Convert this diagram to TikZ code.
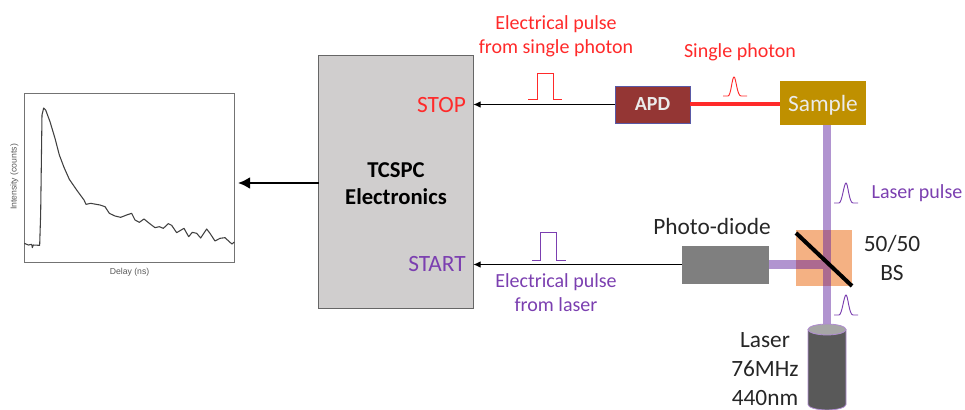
\documentclass[tikz,border=0pt]{standalone}
\usepackage{fontspec}
\setmainfont{Carlito}
\newfontfamily\plotfont{Liberation Sans}
\usetikzlibrary{arrows.meta,shapes.geometric}
\definecolor{pred}{HTML}{FF2A2A}
\definecolor{ppurple}{HTML}{7B3FB0}
\definecolor{beam}{HTML}{B194D0}
\definecolor{overlapc}{HTML}{AC6A90}
\definecolor{boxgray}{HTML}{D0CECE}
\definecolor{samplec}{HTML}{BF9000}
\definecolor{apdc}{HTML}{943634}
\definecolor{orangec}{HTML}{F4B183}
\definecolor{pdc}{HTML}{7F7F7F}
\definecolor{laserc}{HTML}{595959}
\tikzset{
  txt/.style={inner sep=0pt,font=\fontsize{17.5pt}{21pt}\selectfont,align=center,text=black!85},
  redtxt/.style={txt,text=pred,font=\fontsize{15pt}{18pt}\selectfont},
  purpletxt/.style={txt,text=ppurple,font=\fontsize{15pt}{18pt}\selectfont},
  blocknode/.style={rectangle,outer sep=0pt,inner sep=0pt},
  signal/.style={draw=black,line width=0.75pt,-{Latex[length=5.5pt,width=5pt]}},
  pulse/.style={line width=0.7pt},
  small/.style={inner sep=0pt,text=black!65,font=\plotfont\fontsize{6.5pt}{8pt}\selectfont},
  laseredge/.style={draw=ppurple!60,line width=0.6pt},
}
\begin{document}
\begin{tikzpicture}[x=0.75pt,y=-0.75pt]
\useasboundingbox (0,0) rectangle (965,410);
% plot
\node[blocknode,draw=black!55,line width=0.6pt,minimum width=157.5pt,minimum height=126.75pt] (plot) at (129,177.5) {};
\begin{scope}[shift={(0,80)},x=0.25pt,y=-0.25pt]
\draw[black!75,line width=0.8pt,line join=round] (73,490) -- (85,495) -- (95,493) -- (97,503) -- (100,495) -- (119,496) -- (122,400) -- (126,105) -- (131,84) -- (137,90) -- (150,125) -- (165,175) -- (178,225) -- (192,262) -- (208,298) -- (230,330) -- (252,360) -- (258,373) -- (272,370) -- (300,375) -- (315,380) -- (328,400) -- (345,408) -- (362,412) -- (380,405) -- (395,400) -- (405,420) -- (418,427) -- (432,417) -- (448,430) -- (465,443) -- (478,440) -- (490,445) -- (505,431) -- (515,436) -- (530,458) -- (552,445) -- (566,470) -- (577,457) -- (590,460) -- (602,474) -- (620,447) -- (630,460) -- (645,483) -- (660,475) -- (675,473) -- (690,487) -- (696,492) -- (703,486);
\end{scope}
\node[small,rotate=90] (ylab) at (14.5,177) {Intensity (counts)};
\node[small] (xlab) at (129.5,272) {Delay (ns)};
% TCSPC
\node[blocknode,draw=black!60,fill=boxgray,line width=0.6pt,minimum width=116pt,minimum height=189.75pt] (tcspc) at (396,181.5) {};
\node[txt,text=black,font=\bfseries\fontsize{17pt}{20pt}\selectfont] (tcspclab) at (396,183.5) {TCSPC\\Electronics};
\node[txt,text=pred] (stop) at (441.5,105) {STOP};
\node[txt,text=ppurple] (start) at (437,264) {START};
% devices
\node[blocknode,fill=apdc,draw=blue!30!gray,line width=0.4pt,minimum width=56.25pt,minimum height=27.75pt,text=white!92!black,font=\bfseries\fontsize{15pt}{18pt}\selectfont] (apd) at (652.5,104.5) {APD};
\node[blocknode,fill=samplec,minimum width=64.5pt,minimum height=33pt,text depth=0pt,text=white!92!black,font=\fontsize{17.5pt}{21pt}\selectfont] (sample) at (823,103) {Sample};
\node[blocknode,fill=orangec,minimum width=42pt,minimum height=42pt] (bs) at (824,258) {};
\node[blocknode,fill=pdc,minimum width=65.25pt,minimum height=28.5pt] (pd) at (725.5,264.5) {};
\coordinate (bscentre) at (830,264.5);
\coordinate (lasertop) at (827,330);
% beams
\draw[beam,line width=6pt] (sample.south -| lasertop) -- (lasertop);
\draw[beam,line width=6.75pt] (pd.east) -- (bs.west |- bscentre);
\draw[overlapc,line width=6pt] (bs.north -| lasertop) -- (bs.south -| lasertop);
\draw[overlapc,line width=6.75pt] (bs.west |- bscentre) -- (bscentre);
\coordinate (mirrora) at (796,233);
\coordinate (mirrorb) at (852,286);
\draw[line width=3pt,black] (mirrora) -- (mirrorb);
\draw[pred,line width=3pt] (apd.east) -- (sample.west |- apd.east);
% connectors
\draw[signal] (apd.west) -- (apd.west -| tcspc.east);
\draw[signal] (pd.west) -- (pd.west -| tcspc.east);
\coordinate (bigstart) at (318,183);
\coordinate (bigend) at (238,183);
\draw[black,line width=2pt,-{Latex[length=9pt,width=9pt]}] (tcspc.west |- bigstart) -- (bigend);
% laser
\coordinate (laserleft) at (808,329.5);
\coordinate (laserright) at (846,329.5);
\draw[laseredge,fill=laserc] (laserleft) -- ++(0,75) arc[start angle=180,end angle=360,x radius=14.25pt,y radius=4.1pt] -- (laserright) -- cycle;
\node[ellipse,laseredge,fill=black!35,inner sep=0pt,outer sep=0pt,minimum width=28.5pt,minimum height=8.2pt] (lasercap) at (827,329.5) {};
% pulses
\draw[pulse,pred] (528,99) -- (537,99) -- (537,73) -- (553,73) -- (553,99) -- (562,99);
\draw[pulse,ppurple] (532,260) -- (540,260) -- (540,232) -- (556,232) -- (556,260) -- (566,260);
\draw[pulse,pred] (723,96) -- (728,96) .. controls (731,96) and (732,77) .. (734,77) .. controls (736,77) and (737,96) .. (741,96) -- (747,96);
\draw[pulse,ppurple] (834,203) -- (839,203) .. controls (842,203) and (844,183) .. (846,183) .. controls (848,183) and (849,203) .. (853,203) -- (858,203);
\draw[pulse,ppurple] (834,315) -- (839,315) .. controls (842,315) and (844,295) .. (846,295) .. controls (848,295) and (849,315) .. (853,315) -- (858,315);
% labels
\node[redtxt] (epulse) at (556,36) {Electrical pulse\\[0pt]from single photon};
\node[redtxt] (sphoton) at (740,52) {Single photon};
\node[purpletxt] (lpulse) at (917,193) {Laser pulse};
\node[txt] (pdlab) at (712,226) {Photo-diode};
\node[txt] (bslab) at (892,258) {50/50\\[1pt]BS};
\node[purpletxt] (elaser) at (556,293) {Electrical pulse\\[0pt]from laser};
\node[txt] (laserlab) at (765,369) {Laser\\[1pt]76MHz\\[1pt]440nm};
\end{tikzpicture}
\end{document}
